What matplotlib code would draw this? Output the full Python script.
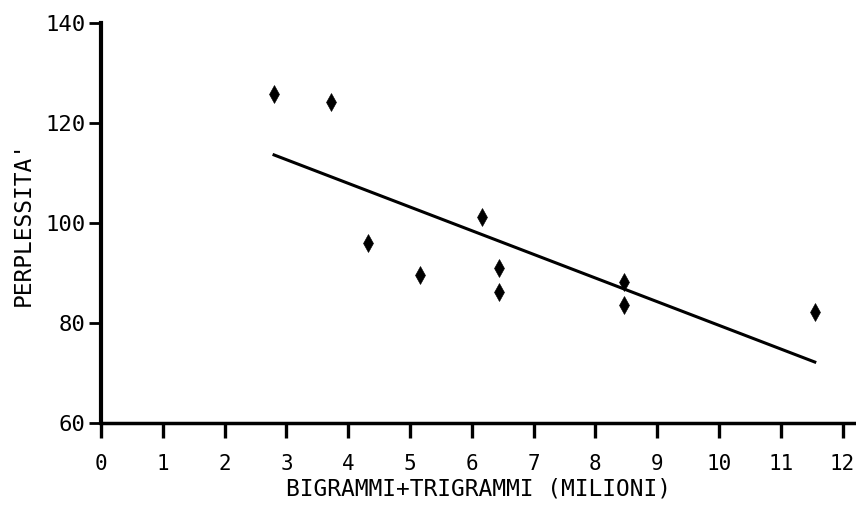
import numpy as np
import matplotlib
matplotlib.use('Agg')
import matplotlib.pyplot as plt

# milioni di bigrammi+trigrammi vs perplessita'
bigrammi = [2.8, 3.72, 4.32, 5.16, 6.17, 6.44, 6.44, 8.46, 8.46, 11.55]
perplessita = [125.8, 124.2, 96.0, 89.6, 101.2, 91.0, 86.2, 88.2, 83.6, 82.2]

x_ticks = list(range(0, 13))
y_ticks = [60, 80, 100, 120, 140]

plt.rcParams['font.family'] = ['DejaVu Sans Mono']

fig = plt.figure(figsize=(8.56, 5.16), dpi=100)
ax = fig.add_axes([101 / 856, 93 / 516, 754 / 856, 400 / 516])

ax.plot(bigrammi, perplessita, linestyle='none', marker='d',
        markersize=9, markeredgewidth=0.4, color='black')

# retta di regressione
slope, intercept = np.polyfit(bigrammi, perplessita, 1)
xs = np.array([min(bigrammi), max(bigrammi)])
ax.plot(xs, slope * xs + intercept, color='black', linewidth=2.2)

ax.set_xlim(0, 754 / 61.8)
ax.set_ylim(60, 140)
ax.set_xticks(x_ticks)
ax.set_yticks(y_ticks)

for side in ['top', 'right']:
    ax.spines[side].set_visible(False)
ax.spines['left'].set_linewidth(3)
ax.spines['bottom'].set_linewidth(2.5)
ax.spines['left'].set_bounds(60, 140)

ax.tick_params(axis='x', direction='out', length=11, width=2.4,
               pad=11, labelsize=15)
ax.tick_params(axis='y', direction='out', length=9, width=2,
               pad=2, labelsize=16)

ax.set_xlabel('BIGRAMMI+TRIGRAMMI (MILIONI)', fontsize=16.5, labelpad=3)
ax.set_ylabel("PERPLESSITA'", fontsize=16.5, labelpad=8)

fig.savefig('out.png', dpi=100)
